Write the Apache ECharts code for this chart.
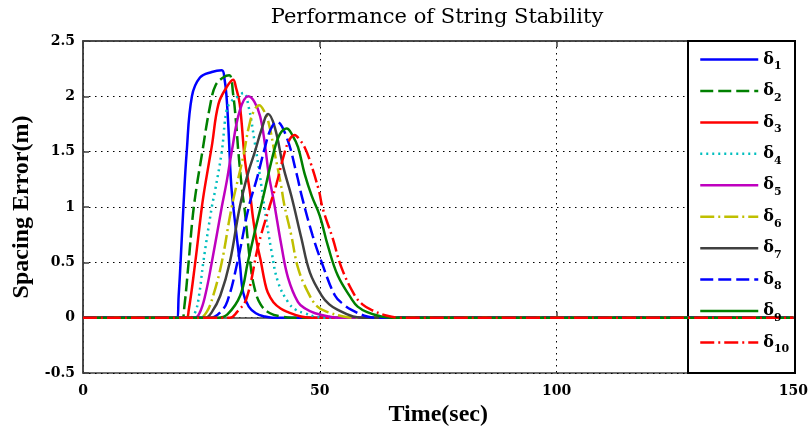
<!DOCTYPE html>
<html><head><meta charset="utf-8">
<script src="https://cdn.jsdelivr.net/npm/echarts@6/dist/echarts.min.js"></script>
<style>html,body{margin:0;padding:0;background:#fff}#c{width:811px;height:432px}</style>
</head><body><div id="c"></div>
<script>
const names = ['δ1','δ2','δ3','δ4','δ5','δ6','δ7','δ8','δ9','δ10'];
const xTicks = [0, 50, 100, 150];
const yTicks = [-0.5, 0, 0.5, 1, 1.5, 2, 2.5];

const d1 = [[0,0],[19.8,0],[20.2,0.2],[20.6,0.5],[21.2,1.0],[21.9,1.5],[23.0,2.0],[24.7,2.17],[27.2,2.22],[29.3,2.235],[29.9,2.15],[30.3,2.0],[30.7,1.72],[31.3,1.2],[32.0,0.9],[33.1,0.5],[33.8,0.23],[35.0,0.1],[36.5,0.04],[38.4,0.01],[40,0],[150,0]];
const d2 = [[0,0],[20.9,0],[21.4,0.1],[22.3,0.5],[23.4,1.0],[25.2,1.5],[26.9,1.93],[28.0,2.1],[29.6,2.17],[30.9,2.19],[31.7,2.02],[32.4,1.72],[32.8,1.5],[33.6,1.15],[34.2,0.95],[35.3,0.5],[36.2,0.27],[37.5,0.12],[39.5,0.04],[42,0.01],[44,0],[150,0]];
const d3 = [[0,0],[21.8,0],[22.3,0.06],[23.7,0.5],[25.1,1.0],[25.8,1.2],[27.2,1.55],[28.6,1.93],[30.3,2.08],[31.7,2.15],[32.3,2.08],[33.1,1.93],[34.2,1.42],[35.2,1.15],[35.9,0.9],[36.7,0.68],[37.5,0.52],[38.4,0.32],[39.0,0.23],[40.2,0.14],[41.8,0.08],[43.3,0.05],[46,0.01],[48,0],[150,0]];
const d4 = [[0,0],[22.6,0],[23.7,0.05],[24.5,0.2],[25.4,0.5],[27.2,1.0],[27.9,1.15],[29.3,1.5],[30.3,1.87],[31.2,1.95],[32.4,1.99],[33.9,2.03],[35.0,1.9],[36.2,1.6],[37.3,1.3],[38.3,1.0],[39.8,0.6],[41.2,0.32],[43.3,0.14],[45,0.07],[46.8,0.04],[49,0.01],[51,0],[150,0]];
const d5 = [[0,0],[23.6,0],[24.7,0.05],[25.8,0.2],[27.2,0.5],[29.3,1.0],[30.3,1.22],[31.4,1.5],[33.1,1.87],[34.9,2.0],[36.2,1.95],[37.4,1.82],[38.4,1.57],[39.2,1.3],[40.3,1.05],[41.9,0.65],[43.3,0.36],[45.4,0.14],[47,0.08],[49,0.04],[52,0.01],[54,0],[150,0]];
const d6 = [[0,0],[24.6,0],[26.1,0.05],[27.5,0.2],[29.3,0.5],[31.4,1.0],[33.8,1.45],[35.0,1.72],[36.0,1.86],[37.2,1.92],[38.2,1.87],[39.2,1.76],[40.5,1.48],[41.8,1.2],[42.5,1.02],[44.0,0.74],[45.4,0.45],[47.5,0.23],[49.5,0.1],[51.7,0.05],[55,0.01],[57,0],[150,0]];
const d7 = [[0,0],[25.8,0],[27.2,0.05],[29,0.2],[31.0,0.5],[33.1,1.0],[34.8,1.3],[36.3,1.5],[37.7,1.7],[39.1,1.84],[40.5,1.72],[42.3,1.36],[44.0,1.1],[46.1,0.72],[47.9,0.41],[50.4,0.2],[52,0.12],[53.8,0.07],[57,0.01],[59,0],[150,0]];
const d8 = [[0,0],[27,0],[29,0.05],[30.5,0.15],[32.6,0.5],[35.0,1.0],[36.8,1.27],[38.3,1.52],[39.6,1.7],[40.9,1.77],[43.0,1.63],[45.1,1.30],[46.3,1.08],[48.5,0.74],[50.4,0.5],[53.2,0.2],[55,0.12],[56.7,0.07],[60,0.01],[62,0],[150,0]];
const d9 = [[0,0],[28.5,0],[30.5,0.03],[33.2,0.2],[34.8,0.5],[36.4,0.8],[38.1,1.1],[40.3,1.5],[41.6,1.66],[43.0,1.71],[44.2,1.65],[45.4,1.54],[46.8,1.30],[48.3,1.1],[50.0,0.92],[51.7,0.65],[53.8,0.38],[56.7,0.17],[58,0.1],[60,0.05],[63,0.01],[65,0],[150,0]];
const d10 = [[0,0],[31.0,0],[32.5,0.05],[34.5,0.17],[37.0,0.65],[39.0,0.95],[40.8,1.2],[42.3,1.45],[43.5,1.6],[44.7,1.65],[45.7,1.61],[46.8,1.54],[47.9,1.42],[49.8,1.15],[50.6,0.99],[52.7,0.72],[54.6,0.45],[57.4,0.2],[59,0.12],[60.9,0.07],[64,0.02],[67,0],[150,0]];
const allData = [d1,d2,d3,d4,d5,d6,d7,d8,d9,d10];

const colors = ['#0000ff','#008000','#ff0000','#00bfbf','#bf00bf','#bfbf00','#404040','#0000ff','#008000','#ff0000'];
const dashes = ['solid',[13,5],'solid',[2,4],'solid',[14,4,2,4],'solid',[13,5],'solid',[14,4,2,4]];

const serif = 'DejaVu Serif';
const times = 'Liberation Serif';

const chart = echarts.init(document.getElementById('c'));
chart.setOption({
  animation: false,
  backgroundColor: '#fff',
  title: {
    text: 'Performance of String Stability',
    left: 432, textAlign: 'center', top: 2,
    textStyle: {fontFamily: serif, fontSize: 21, fontWeight: 'normal', color: '#000'}
  },
  grid: {left: 83, right: 16, top: 41, bottom: 59, show: true, borderColor: '#404040', borderWidth: 1.5, backgroundColor: '#fff'},
  xAxis: [{
    type: 'value', min: xTicks[0], max: xTicks[xTicks.length-1], interval: 50,
    name: 'Time(sec)', nameLocation: 'middle', nameGap: 28,
    nameTextStyle: {fontFamily: times, fontWeight: 'bold', fontSize: 24, color: '#000'},
    axisLine: {show: true, lineStyle: {color: '#404040', width: 1.5}},
    axisTick: {show: true, inside: true, length: 6, lineStyle: {color: '#404040', width: 1.5}},
    axisLabel: {fontFamily: serif, fontWeight: 'bold', fontSize: 14, color: '#000', margin: 11},
    splitLine: {show: true, lineStyle: {color: '#000', width: 1, type: [1.5, 4.5]}}
  }, {
    type: 'value', position: 'top', min: xTicks[0], max: xTicks[xTicks.length-1], interval: 50,
    axisLine: {show: true, lineStyle: {color: '#404040', width: 1.5}},
    axisTick: {show: true, inside: true, length: 6, lineStyle: {color: '#404040', width: 1.5}},
    axisLabel: {show: false}, splitLine: {show: false}
  }],
  yAxis: {
    type: 'value', min: yTicks[0], max: yTicks[yTicks.length-1], interval: 0.5,
    name: 'Spacing Error(m)', nameLocation: 'middle', nameGap: 38,
    nameTextStyle: {fontFamily: times, fontWeight: 'bold', fontSize: 24, color: '#000'},
    axisLine: {show: true, lineStyle: {color: '#404040', width: 1.5}},
    axisTick: {show: true, inside: true, length: 6, lineStyle: {color: '#404040', width: 1.5}},
    axisLabel: {fontFamily: serif, fontWeight: 'bold', fontSize: 14, color: '#000', margin: 8},
    splitLine: {show: true, lineStyle: {color: '#000', width: 1, type: [1.5, 4.5]}}
  },
  graphic: [{
    type: 'rect', z: 3, shape: {x: 688, y: 41, width: 107, height: 332},
    style: {fill: '#fff', stroke: '#000', lineWidth: 2}
  }],
  legend: {
    data: names, orient: 'vertical', left: 699, top: 47,
    itemWidth: 58, itemHeight: 26, itemGap: 6.44, padding: 0,
    itemStyle: {opacity: 0},
    lineStyle: {width: 2.5},
    formatter: function (n) { return '{d|δ}{s|' + n.slice(1) + '}'; },
    textStyle: {
      rich: {
        d: {fontFamily: serif, fontWeight: 'bold', fontSize: 16, color: '#000', lineHeight: 26},
        s: {fontFamily: serif, fontWeight: 'bold', fontSize: 11, color: '#000', lineHeight: 12, padding: [14, 0, 0, 0]}
      }
    }
  },
  series: allData.map((d, i) => ({
    name: names[i], type: 'line', data: d, symbol: 'none', showSymbol: false,
    smooth: 0.4, xAxisIndex: 0,
    lineStyle: {color: colors[i], width: 2.5, type: dashes[i]},
    itemStyle: {color: colors[i]}
  }))
});
</script>
</body></html>
